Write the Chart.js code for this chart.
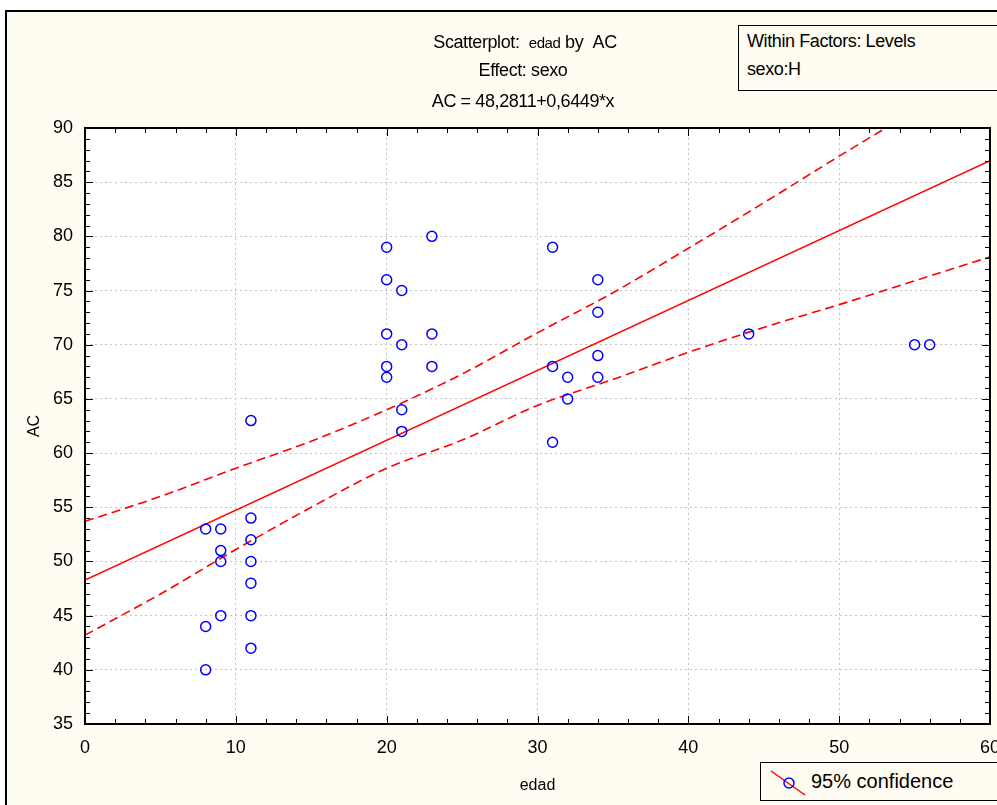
<!DOCTYPE html>
<html>
<head>
<meta charset="utf-8">
<script src="https://cdn.jsdelivr.net/npm/chart.js@4/dist/chart.umd.min.js"></script>
<style>
  html, body { margin: 0; padding: 0; background: #ffffff; overflow: hidden; }
  body { width: 997px; height: 805px; position: relative; font-family: "Liberation Sans", Arial, sans-serif; }
  #frame { position: absolute; left: 5px; top: 10px; width: 1000px; height: 800px; border: 2px solid #000; background: #fffcf2; }
  #chart { position: absolute; left: 0; top: 0; }
  .t { position: absolute; color: #000; white-space: nowrap; font-size: 18px; letter-spacing: -0.4px; }
  .c { transform: translateX(-50%); }
  #factors { position: absolute; left: 738px; top: 25px; width: 280px; height: 64px; border: 1.5px solid #000; background: #fffcf2; }
  #legend { position: absolute; left: 760px; top: 762px; width: 240px; height: 37px; border: 1.5px solid #000; background: #fffcf2; }
</style>
</head>
<body>
<div id="frame"></div>
<canvas id="chart" width="997" height="805"></canvas>

<div class="t c" style="left:525px; top:32px;">Scatterplot:&nbsp; <span style="font-size:15px">edad</span> by &nbsp;AC</div>
<div class="t c" style="left:523px; top:60px;">Effect: sexo</div>
<div class="t c" style="left:523px; top:91px;">AC = 48,2811+0,6449*x</div>

<div id="factors">
  <div class="t" style="left:8px; top:5px;">Within Factors: Levels</div>
  <div class="t" style="left:8px; top:33px;">sexo:H</div>
</div>

<div id="legend">
  <svg width="50" height="37" style="position:absolute; left:0; top:0;">
    <line x1="10" y1="8" x2="44" y2="32" stroke="#ff0000" stroke-width="1.5"/>
    <circle cx="28" cy="20" r="5" fill="none" stroke="#0000ff" stroke-width="1.5"/>
  </svg>
  <div class="t" style="left:50px; top:7px; font-size:20px; letter-spacing:0;">95% confidence</div>
</div>

<script>
// observations
const edad = [8, 8, 8,
  9, 9, 9, 9,
  11, 11, 11, 11, 11, 11, 11,
  20, 20, 20, 20, 20,
  21, 21, 21, 21,
  23, 23, 23,
  31, 31, 31,
  32, 32,
  34, 34, 34, 34,
  44, 55, 56];
const ac = [53, 44, 40,
  53, 51, 50, 45,
  63, 54, 52, 50, 48, 45, 42,
  79, 76, 71, 68, 67,
  75, 70, 64, 62,
  80, 71, 68,
  79, 68, 61,
  67, 65,
  76, 73, 69, 67,
  71, 70, 70];

// fitted line AC = 48,2811 + 0,6449*x
const fitX = [0, 60];
const fitY = [48.2811, 86.9751];

// 95% confidence band
const bandX = [0, 5, 10, 15, 20, 25, 30, 35, 40, 45, 50, 55, 60];
const bandUpper = [53.7, 56.0, 58.6, 61.1, 64.0, 67.3, 71.1, 74.8, 78.9, 83.1, 87.4, 91.6, 95.8];
const bandLower = [43.2, 47.0, 51.1, 55.0, 58.6, 61.2, 64.4, 66.8, 69.3, 71.6, 73.7, 75.9, 78.1];

const toPts = (xs, ys) => xs.map((x, i) => ({ x: x, y: ys[i] }));

const tickFont = { family: "'Liberation Sans', Arial, sans-serif", size: 18 };

// white plot area, black box and inward ticks like the original
const frameAxes = {
  id: 'frameAxes',
  beforeDraw(chart) {
    const a = chart.chartArea;
    const ctx = chart.ctx;
    ctx.save();
    ctx.fillStyle = '#ffffff';
    ctx.fillRect(a.left, a.top, a.right - a.left, a.bottom - a.top);
    ctx.restore();
  },
  afterDraw(chart) {
    const a = chart.chartArea;
    const ctx = chart.ctx;
    const xs = chart.scales.x;
    const ys = chart.scales.y;
    ctx.save();
    ctx.strokeStyle = '#000';
    ctx.lineWidth = 2;
    ctx.strokeRect(a.left, a.top, a.right - a.left, a.bottom - a.top);
    ctx.lineWidth = 1;
    ctx.beginPath();
    for (let v = 35; v <= 90; v++) {
      const y = Math.round(ys.getPixelForValue(v)) + 0.5;
      const len = v % 5 === 0 ? 8 : 5;
      ctx.moveTo(a.left, y); ctx.lineTo(a.left + len, y);
      ctx.moveTo(a.right, y); ctx.lineTo(a.right - len, y);
    }
    for (let v = 0; v <= 60; v += 2) {
      const x = Math.round(xs.getPixelForValue(v)) + 0.5;
      const len = v % 10 === 0 ? 8 : 5;
      ctx.moveTo(x, a.top); ctx.lineTo(x, a.top + len);
      ctx.moveTo(x, a.bottom); ctx.lineTo(x, a.bottom - len);
    }
    ctx.stroke();
    ctx.restore();
  }
};

new Chart(document.getElementById('chart'), {
  type: 'scatter',
  data: {
    datasets: [{
      label: 'AC',
      data: toPts(edad, ac),
      pointStyle: 'circle',
      pointRadius: 5,
      borderColor: '#0000ff',
      backgroundColor: 'rgba(0,0,0,0)',
      borderWidth: 1.5,
    }, {
      label: 'fit',
      data: toPts(fitX, fitY),
      showLine: true,
      borderColor: '#ff0000',
      borderWidth: 1.5,
      pointRadius: 0,
    }, {
      label: 'upper',
      data: toPts(bandX, bandUpper),
      showLine: true,
      borderColor: '#ff0000',
      borderWidth: 1.6,
      borderDash: [9, 5],
      pointRadius: 0,
      cubicInterpolationMode: 'monotone',
    }, {
      label: 'lower',
      data: toPts(bandX, bandLower),
      showLine: true,
      borderColor: '#ff0000',
      borderWidth: 1.6,
      borderDash: [9, 5],
      pointRadius: 0,
      cubicInterpolationMode: 'monotone',
    }]
  },
  options: {
    responsive: false,
    animation: false,
    devicePixelRatio: 1,
    layout: { padding: { top: 128, right: 7, left: 0, bottom: 0 } },
    plugins: {
      legend: { display: false },
      tooltip: { enabled: false },
    },
    scales: {
      x: {
        type: 'linear',
        min: 0,
        max: 60,
        ticks: { stepSize: 10, color: '#000', font: tickFont, padding: 13, maxRotation: 0 },
        grid: { color: '#c4c4c4', drawTicks: false },
        border: { display: false, dash: [2, 3] },
        title: { display: true, text: 'edad', color: '#000', font: { family: "'Liberation Sans', Arial, sans-serif", size: 16 }, padding: { top: 4, bottom: 10 } },
        afterFit(scale) { scale.height = 81; scale.paddingLeft = 0; scale.paddingRight = 0; },
      },
      y: {
        min: 35,
        max: 90,
        ticks: { stepSize: 5, color: '#000', font: tickFont, padding: 12 },
        grid: { color: '#c4c4c4', drawTicks: false },
        border: { display: false, dash: [2, 3] },
        title: { display: true, text: 'AC', color: '#000', font: { family: "'Liberation Sans', Arial, sans-serif", size: 16 }, padding: { top: 25, bottom: 0 } },
        afterFit(scale) { scale.width = 85; scale.paddingTop = 0; scale.paddingBottom = 0; },
      }
    }
  },
  plugins: [frameAxes]
});
</script>
</body>
</html>
